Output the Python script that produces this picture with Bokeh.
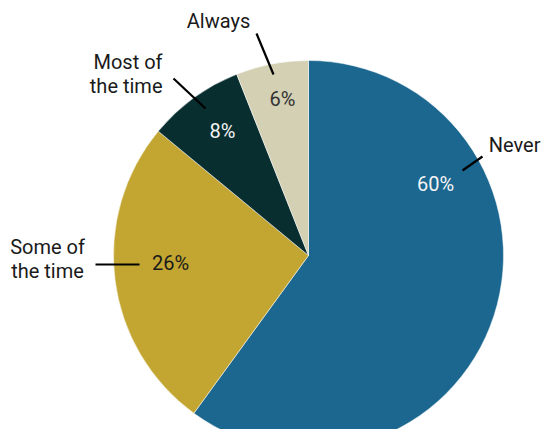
from bokeh.plotting import figure
from bokeh.models import ColumnDataSource, Range1d
from bokeh.core.properties import value
from bokeh.embed import file_html
from bokeh.resources import INLINE
import math

categories = ["Never", "Some of the time", "Most of the time", "Always"]
shares = [60, 26, 8, 6]
pct_labels = ["60%", "26%", "8%", "6%"]
colors = ["#1b6790", "#c3a632", "#082e2f", "#d3d0b3"]
pct_colors = ["#f4f4f4", "#1a1a1a", "#f4f4f4", "#333333"]

W, H = 541, 429
FONT = "Roboto"
FS = "20px"

def Y(py):
    return H - py

p = figure(width=W, height=H, output_backend="svg", toolbar_location=None,
           x_range=Range1d(0, W), y_range=Range1d(0, H),
           min_border=0)
p.axis.visible = False
p.grid.visible = False
p.outline_line_color = None
p.background_fill_color = "white"

cx, cy, R = 308, Y(255), 195
total = sum(shares)
starts, ends = [], []
acc = 0
for s in shares:
    starts.append(math.radians(90 - acc / total * 360))
    acc += s
    ends.append(math.radians(90 - acc / total * 360))

src = ColumnDataSource(dict(start=starts, end=ends, color=colors, cat=categories))
p.wedge(x=cx, y=cy, radius=R, start_angle="start", end_angle="end",
        direction="clock", fill_color="color", line_color="white",
        line_width=0.5, source=src)

# percentage labels (picture-pixel positions of label centres)
pct_x = [435, 170, 222, 282]
pct_y = [183, 262, 130, 98]
p.text(x=pct_x, y=[Y(v) for v in pct_y], text=pct_labels,
       text_color=pct_colors, text_font=value(FONT), text_font_size=FS,
       text_align="center", text_baseline="middle")

# category labels, one line each (centre of each line)
cat_lines = ["Never", "Some of", "the time", "Most of", "the time", "Always"]
cat_x = [540, 47, 47, 162, 162, 218]
cat_y = [144, 246, 270, 61, 85, 20]
cat_align = ["right", "center", "center", "right", "right", "center"]
p.text(x=cat_x, y=[Y(v) for v in cat_y], text=cat_lines,
       text_color="#1a1a1a", text_font=value(FONT), text_font_size=FS,
       text_align=cat_align, text_baseline="middle")

# leader lines
lx0 = [462, 95, 173, 256]
ly0 = [170, 264, 78, 33]
lx1 = [482, 139, 205, 273]
ly1 = [156, 264, 108, 74]
p.segment(x0=lx0, y0=[Y(v) for v in ly0], x1=lx1, y1=[Y(v) for v in ly1],
          line_color="black", line_width=2.2)

open("out.html", "w").write(file_html(p, INLINE))
